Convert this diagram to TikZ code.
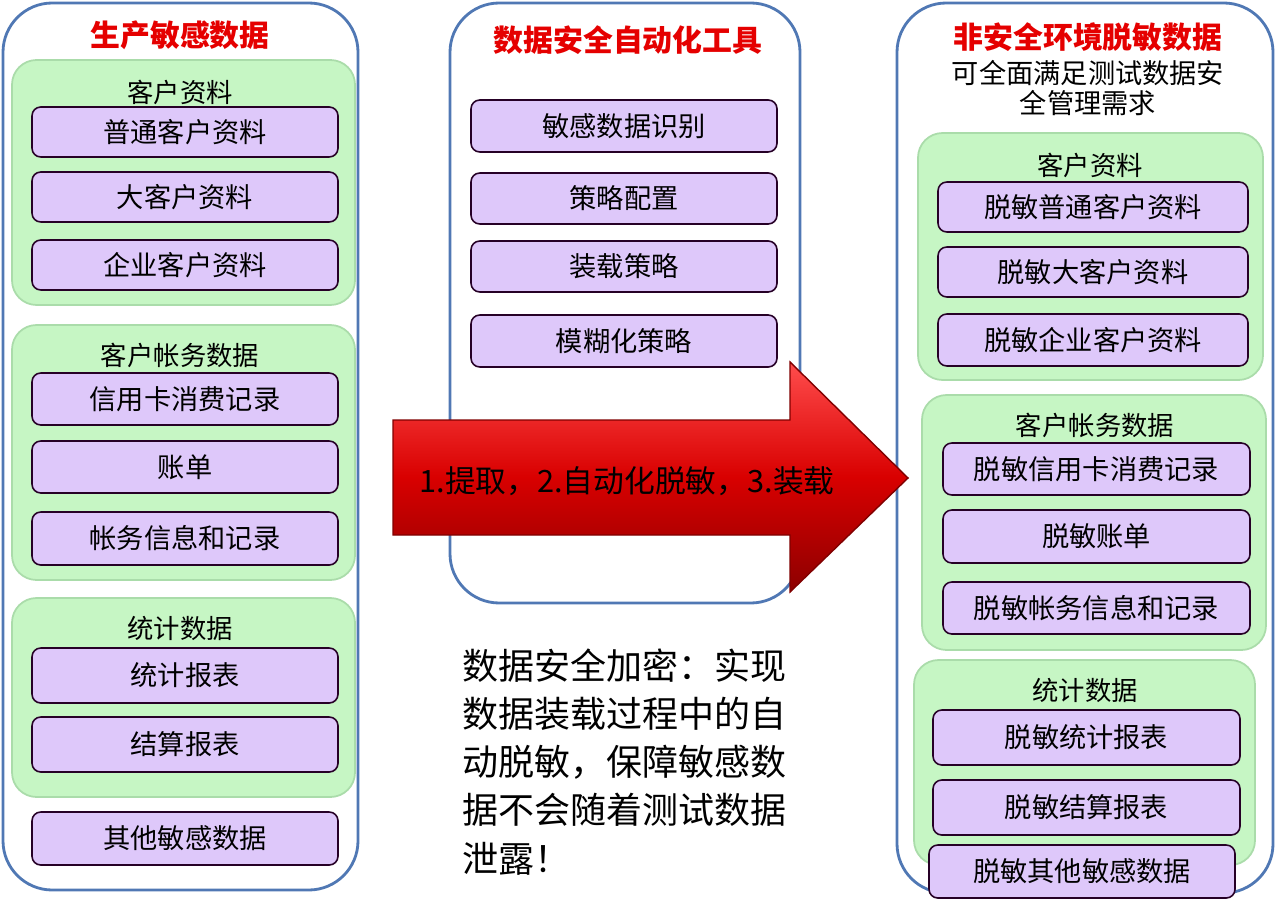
\documentclass[tikz,border=0pt]{standalone}
\usepackage{fontspec}
\setmainfont{Noto Sans CJK SC}
\definecolor{boxf}{RGB}{222,200,250}
\definecolor{grpf}{RGB}{198,246,196}
\definecolor{grpd}{RGB}{170,220,170}
\definecolor{outd}{RGB}{80,120,180}
\begin{document}
\begin{tikzpicture}[x=0.02cm,y=-0.02cm,
 outer/.style={draw=outd,line width=1.6pt,fill=white,rounded corners=28pt},
 grp/.style={draw=grpd,line width=1pt,fill=grpf,rounded corners=14pt},
 itm/.style={draw=violet!30!black,line width=0.9pt,fill=boxf,rounded corners=5pt,inner sep=0pt},
 ttl/.style={text=red!90!black,font=\fontsize{17}{19}\selectfont\bfseries},
 lab/.style={font=\fontsize{15}{17}\selectfont},
 txt/.style={font=\fontsize{15.5}{17.5}\selectfont}]
\useasboundingbox (0,0) rectangle (1280,905);
\newcommand\itembox[6]{\draw[itm] (#1,#2) rectangle (#3,#4); \node[txt] (#6) at ({(#1+#3)/2},{(#2+#4)/2}) {#5};}
% left
\draw[outer] (3,3) rectangle (358,890);
\node[ttl] (t1) at (180,35) {生产敏感数据};
\draw[grp] (12,60) rectangle (355,305);
\node[lab] (g1) at (180,92) {客户资料};
\itembox{32}{107}{338}{157}{普通客户资料}{a1}
\itembox{32}{172}{338}{222}{大客户资料}{a2}
\itembox{32}{240}{338}{290}{企业客户资料}{a3}
\draw[grp] (12,325) rectangle (355,580);
\node[lab] (g2) at (180,355) {客户帐务数据};
\itembox{32}{373}{338}{425}{信用卡消费记录}{a4}
\itembox{32}{441}{338}{493}{账单}{a5}
\itembox{32}{512}{338}{565}{帐务信息和记录}{a6}
\draw[grp] (12,598) rectangle (355,797);
\node[lab] (g3) at (180,628) {统计数据};
\itembox{32}{648}{338}{703}{统计报表}{a7}
\itembox{32}{717}{338}{772}{结算报表}{a8}
\itembox{32}{812}{338}{865}{其他敏感数据}{a9}
% middle
\draw[outer] (450,3) rectangle (800,603);
\node[ttl] (t2) at (628,40) {数据安全自动化工具};
\itembox{471}{100}{777}{152}{敏感数据识别}{b1}
\itembox{471}{173}{777}{224}{策略配置}{b2}
\itembox{471}{241}{777}{292}{装载策略}{b3}
\itembox{471}{315}{777}{367}{模糊化策略}{b4}
\node[font=\fontsize{20.5}{27.5}\selectfont,align=left,anchor=north west,inner sep=0pt] (note) at (462,648)
 {数据安全加密：实现\\数据装载过程中的自\\动脱敏，保障敏感数\\据不会随着测试数据\\泄露！};
% right
\draw[outer] (897,3) rectangle (1273,893);
\node[ttl] (t3) at (1088,37) {非安全环境脱敏数据};
\node[txt,align=center] (sub) at (1088,88) {可全面满足测试数据安\\全管理需求};
\draw[grp] (918,133) rectangle (1263,380);
\node[lab] (h1) at (1090,165) {客户资料};
\itembox{938}{182}{1248}{232}{脱敏普通客户资料}{c1}
\itembox{938}{247}{1248}{297}{脱敏大客户资料}{c2}
\itembox{938}{314}{1248}{366}{脱敏企业客户资料}{c3}
\draw[grp] (922,395) rectangle (1266,650);
\node[lab] (h2) at (1095,425) {客户帐务数据};
\itembox{943}{443}{1250}{495}{脱敏信用卡消费记录}{c4}
\itembox{943}{510}{1250}{563}{脱敏账单}{c5}
\itembox{943}{582}{1250}{634}{脱敏帐务信息和记录}{c6}
\draw[grp] (914,660) rectangle (1255,865);
\node[lab] (h3) at (1085,690) {统计数据};
\itembox{933}{710}{1240}{765}{脱敏统计报表}{c7}
\itembox{933}{780}{1240}{835}{脱敏结算报表}{c8}
\itembox{929}{845}{1235}{898}{脱敏其他敏感数据}{c9}
% arrow
\shade[top color=red!70!white,bottom color=red!55!black,middle color=red!85!black,draw=red!50!black,line width=0.8pt]
 (393,420) -- (790,420) -- (790,362) -- (908,478) -- (790,592) -- (790,535) -- (393,535) -- cycle;
\node[font=\fontsize{17.5}{19}\selectfont] (ar) at (627,481) {1.提取，2.自动化脱敏，3.装载};
\end{tikzpicture}
\end{document}
